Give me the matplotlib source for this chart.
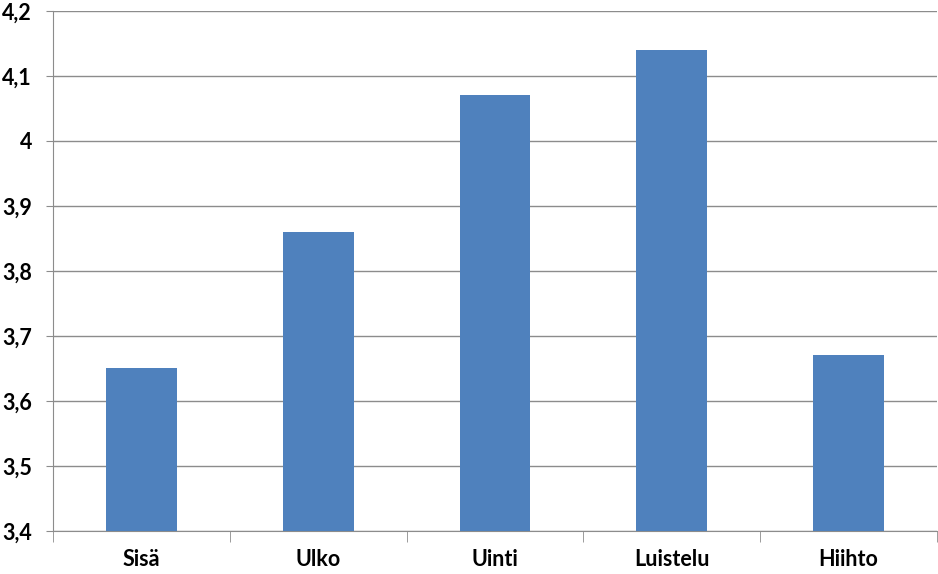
import matplotlib
matplotlib.use('Agg')
import matplotlib.pyplot as plt
import numpy as np
from matplotlib.ticker import FuncFormatter, MultipleLocator

categories = ['Sisä', 'Ulko', 'Uinti', 'Luistelu', 'Hiihto']
values = [3.65, 3.86, 4.07, 4.14, 3.67]

plt.rcParams['font.family'] = ['Lato', 'DejaVu Sans']
plt.rcParams['font.weight'] = 'bold'

fig = plt.figure(figsize=(9.38, 5.74), dpi=100)
ax = fig.add_axes([0.0565, 0.0749, 0.9424, 0.906])

x = np.arange(len(categories))
ax.bar(x, values, width=0.4, color='#4F81BD', bottom=0, zorder=3)

ax.set_ylim(3.4, 4.2)
ax.set_xlim(-0.5, len(categories) - 0.5)
ax.yaxis.set_major_locator(MultipleLocator(0.1))
ax.yaxis.set_major_formatter(FuncFormatter(lambda v, p: ('%g' % round(v, 1)).replace('.', ',')))
ax.grid(axis='y', color='#8C8C8C', linewidth=1, zorder=0)

for s in ['top', 'right']:
    ax.spines[s].set_visible(False)
ax.spines['left'].set_color('#8C8C8C')
ax.spines['bottom'].set_color('#8C8C8C')

ax.set_xticks(x)
ax.set_xticklabels(categories)
ax.set_xticks(np.arange(len(categories) + 1) - 0.5, minor=True)
ax.tick_params(axis='x', which='major', length=0, pad=13, labelsize=15.5)
ax.tick_params(axis='x', which='minor', length=8, color='#8C8C8C')
ax.tick_params(axis='y', length=5, color='#8C8C8C', labelsize=15.5, pad=10)
for lbl in ax.get_xticklabels() + ax.get_yticklabels():
    lbl.set_fontweight('bold')

fig.savefig('out.png', dpi=100)
